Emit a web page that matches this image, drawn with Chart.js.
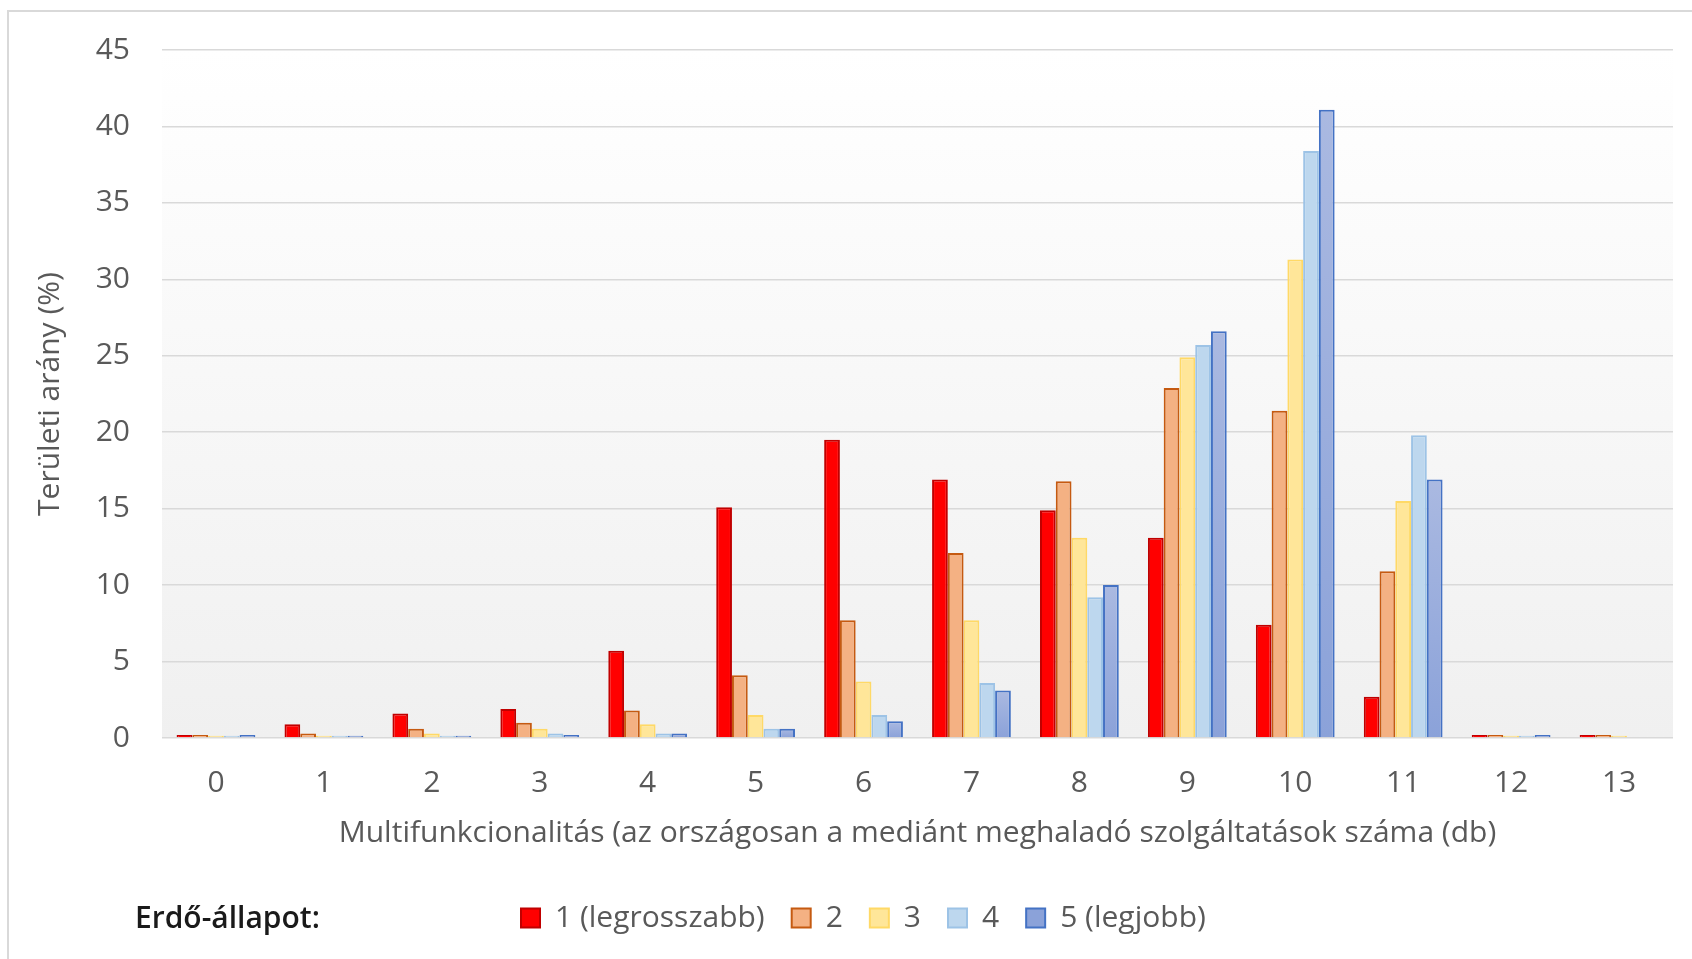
<!DOCTYPE html>
<html>
<head>
<meta charset="utf-8">
<script src="https://cdn.jsdelivr.net/npm/chart.js@4.4.0/dist/chart.umd.min.js"></script>
<style>
  html, body { margin: 0; padding: 0; background: #fff; overflow: hidden; }
  #wrap { position: relative; width: 1692px; height: 959px; }
  #frame { position: absolute; left: 7px; top: 10px; width: 2000px; height: 2000px;
           border: 2px solid #d9d9d9; box-sizing: border-box; }
  #cv { position: absolute; left: 0; top: 0; }
</style>
</head>
<body>
<div id="wrap">
  <div id="frame"></div>
  <canvas id="cv" width="1692" height="959"></canvas>
</div>
<script>
// Multifunkcionalitás kategóriák (szolgáltatások száma)
const categories = ["0", "1", "2", "3", "4", "5", "6", "7", "8", "9", "10", "11", "12", "13"];

// Területi arány (%) erdő-állapot szerint
const state1 = [0.2, 0.9, 1.6, 1.9, 5.7, 15.1, 19.5, 16.9, 14.9, 13.1, 7.4, 2.7, 0.2, 0.2];
const state2 = [0.2, 0.3, 0.6, 1.0, 1.8, 4.1, 7.7, 12.1, 16.8, 22.9, 21.4, 10.9, 0.2, 0.2];
const state3 = [0.15, 0.15, 0.3, 0.6, 0.9, 1.5, 3.7, 7.7, 13.1, 24.9, 31.3, 15.5, 0.15, 0.15];
const state4 = [0.15, 0.15, 0.15, 0.3, 0.3, 0.6, 1.5, 3.6, 9.2, 25.7, 38.4, 19.8, 0.15, 0];
const state5 = [0.2, 0.15, 0.15, 0.2, 0.3, 0.6, 1.1, 3.1, 10.0, 26.6, 41.1, 16.9, 0.2, 0];

const seriesNames = ["1 (legrosszabb)", "2", "3", "4", "5 (legjobb)"];
const yTicks = { min: 0, max: 45, step: 5 };

const FONT = "'Open Sans', 'Noto Sans', sans-serif";
const FS = 30;
const TXT = "#595959";
const LEGEND_PAD = 27;

// plot area background: white at top fading to light grey
const plotBg = {
  id: "plotBg",
  beforeDraw(chart) {
    const a = chart.chartArea, ctx = chart.ctx;
    const g = ctx.createLinearGradient(0, a.top, 0, a.bottom);
    g.addColorStop(0, "#ffffff");
    g.addColorStop(1, "#f0f0f0");
    ctx.save();
    ctx.fillStyle = g;
    ctx.fillRect(a.left, a.top, a.right - a.left, a.bottom - a.top);
    ctx.restore();
  }
};

// legend sits right of a "Erdő-állapot:" caption
const legendCaption = {
  id: "legendCaption",
  afterLayout(chart) {
    const lg = chart.legend;
    if (!lg || !lg.lineWidths) return;
    const firstX = (lg.left + LEGEND_PAD + lg.right - lg.lineWidths[0]) / 2;
    const dx = 521 - firstX;
    lg.left += dx; lg.right += dx;
  },
  afterDraw(chart) {
    const lg = chart.legend;
    if (!lg) return;
    const ctx = chart.ctx;
    ctx.save();
    ctx.font = "600 " + FS + "px " + FONT;
    ctx.fillStyle = "#1a1a1a";
    ctx.textBaseline = "middle";
    ctx.textAlign = "left";
    ctx.fillText("Erdő-állapot:", 135, 919);
    ctx.restore();
  }
};

function blueFill(context) {
  const chart = context.chart;
  const a = chart.chartArea;
  if (!a || context.raw == null) return "#98aadc";
  const y = chart.scales.y;
  const top = y.getPixelForValue(context.raw);
  const base = y.getPixelForValue(0);
  if (base - top < 1) return "#8fa4d9";
  const g = chart.ctx.createLinearGradient(0, top, 0, base);
  g.addColorStop(0, "#aab9e1");
  g.addColorStop(1, "#8ba2d9");
  return g;
}

const ds = (label, data, bg, border) => ({
  label, data,
  backgroundColor: bg,
  borderColor: border,
  borderWidth: 2,
  categoryPercentage: 0.73,
  barPercentage: 1.0
});

new Chart(document.getElementById("cv"), {
  type: "bar",
  data: {
    labels: categories,
    datasets: [
      ds(seriesNames[0], state1, "#ff0000", "#c00000"),
      ds(seriesNames[1], state2, "#f4b183", "#c55a11"),
      ds(seriesNames[2], state3, "#ffe699", "#ffd966"),
      ds(seriesNames[3], state4, "#bdd7ee", "#9dc3e6"),
      ds(seriesNames[4], state5, "#98aadc", "#4472c4")
    ]
  },
  options: {
    responsive: false,
    animation: false,
    layout: { padding: { left: 8, right: 19, top: 49, bottom: 16 } },
    scales: {
      x: {
        grid: { display: false },
        border: { display: false },
        ticks: { color: TXT, font: { family: FONT, size: FS }, padding: 19 },
        title: {
          display: true,
          text: "Multifunkcionalitás (az országosan a mediánt meghaladó szolgáltatások száma (db)",
          color: TXT,
          font: { family: FONT, size: FS },
          padding: { top: 0, bottom: 25 }
        },
        afterFit(scale) { scale.height = 138; }
      },
      y: {
        min: yTicks.min,
        max: yTicks.max,
        grid: { color: "#d9d9d9", lineWidth: 1.5, drawTicks: false },
        border: { display: false },
        ticks: { stepSize: yTicks.step, color: TXT, font: { family: FONT, size: FS }, padding: 32 },
        title: {
          display: true,
          text: "Területi arány (%)",
          color: TXT,
          font: { family: FONT, size: FS },
          padding: { top: 24, bottom: 0 }
        },
        afterFit(scale) { scale.width = 154; }
      }
    },
    plugins: {
      legend: {
        position: "bottom",
        labels: {
          color: TXT,
          font: { family: FONT, size: FS },
          boxWidth: 19,
          boxHeight: 19,
          padding: LEGEND_PAD
        }
      },
      tooltip: { enabled: false }
    }
  },
  plugins: [plotBg, legendCaption]
});

// blue bars get a soft vertical gradient like the original
const chart = Chart.getChart("cv");
chart.data.datasets[4].backgroundColor = blueFill;
chart.update();
</script>
</body>
</html>
